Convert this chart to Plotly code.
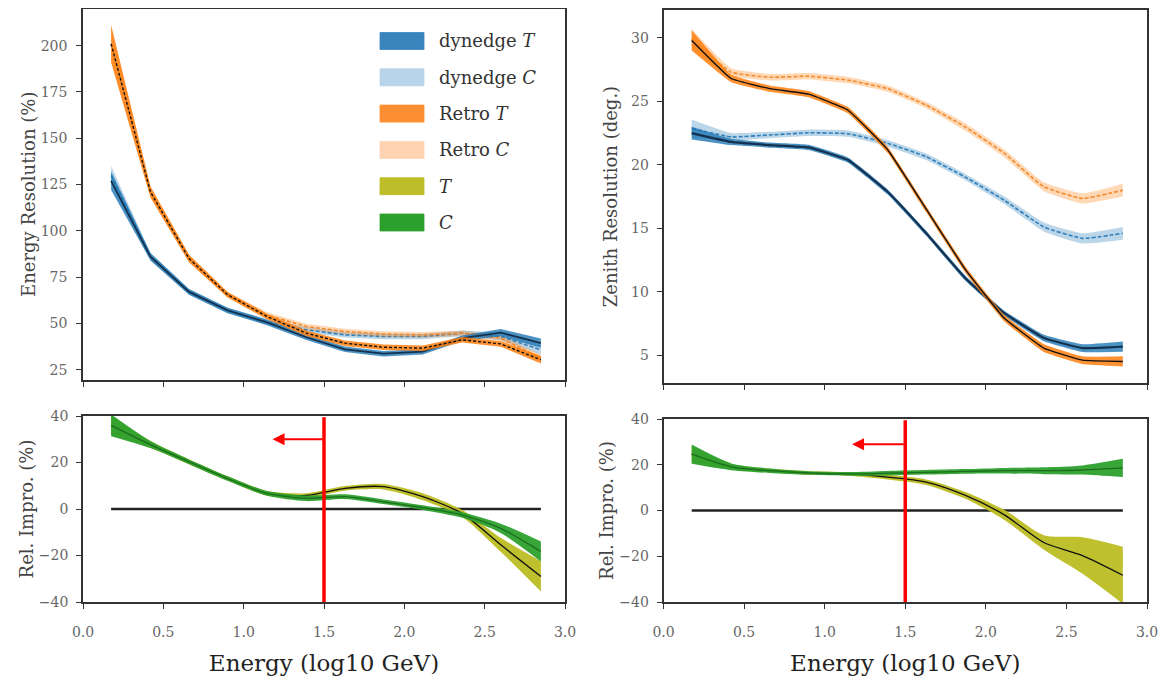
import plotly.graph_objects as go

# ---------------- data ----------------
energy_bins = [0.175, 0.42, 0.66, 0.90, 1.145, 1.39, 1.63, 1.87, 2.115, 2.36, 2.60, 2.85]

# Energy resolution (%)
dyn_T_energy = [127, 86, 67, 57, 50.5, 42.5, 36.0, 33.6, 34.7, 42.0, 45.0, 39.3]
dyn_T_energy_err = [5, 2, 1.5, 1.5, 1.5, 1.5, 1.5, 1.5, 1.5, 1.5, 2, 2.5]
dyn_C_energy = [130, 86, 67, 57, 51, 46.5, 43.8, 42.9, 42.9, 44.7, 42.9, 35.7]
dyn_C_energy_err = [5, 2, 1.5, 1.5, 1.5, 1.5, 1.5, 1.5, 1.5, 1.5, 2, 2.5]
retro_T_energy = [201, 121, 85, 65.5, 53.7, 44.7, 39.3, 37.1, 36.6, 41.1, 38.9, 30.3]
retro_T_energy_err = [10, 3, 2, 1.5, 1.5, 1.5, 1.5, 1.5, 1.5, 1.5, 1.5, 2]
retro_C_energy = [201, 121, 85, 65.5, 54.5, 48.3, 45.6, 44.2, 43.8, 44.7, 42.0, 31.2]
retro_C_energy_err = [10, 3, 2, 1.5, 1.5, 1.5, 1.5, 1.5, 1.5, 1.5, 1.5, 2]

# Zenith resolution (deg.)
dyn_T_zenith = [22.5, 21.8, 21.55, 21.37, 20.37, 17.87, 14.6, 11.1, 8.3, 6.35, 5.55, 5.67]
dyn_T_zenith_err = [0.5, 0.25, 0.2, 0.2, 0.2, 0.2, 0.2, 0.2, 0.2, 0.25, 0.3, 0.4]
dyn_C_zenith = [22.87, 22.2, 22.35, 22.52, 22.45, 21.7, 20.63, 19.05, 17.2, 15.1, 14.2, 14.6]
dyn_C_zenith_err = [0.7, 0.3, 0.25, 0.25, 0.25, 0.25, 0.25, 0.25, 0.3, 0.35, 0.4, 0.5]
retro_T_zenith = [29.8, 26.8, 26.0, 25.57, 24.3, 21.2, 16.5, 11.8, 7.9, 5.55, 4.6, 4.5]
retro_T_zenith_err = [0.8, 0.3, 0.25, 0.25, 0.25, 0.25, 0.25, 0.25, 0.25, 0.3, 0.3, 0.4]
retro_C_zenith = [29.9, 27.3, 26.9, 26.98, 26.67, 26.0, 24.7, 23.0, 20.9, 18.27, 17.35, 18.0]
retro_C_zenith_err = [0.8, 0.3, 0.25, 0.25, 0.25, 0.25, 0.25, 0.3, 0.3, 0.35, 0.4, 0.5]

# Relative improvement (%)
impro_T_energy = [36, 27.7, 20.3, 13.1, 6.7, 5.8, 8.9, 9.6, 5.3, -1.9, -15.4, -29]
impro_T_energy_err = [4, 1.5, 1, 1, 1, 1, 1, 1.2, 1.5, 1.5, 3, 6.5]
impro_C_energy = [36, 27.7, 20.3, 13.1, 6.7, 4.6, 5.3, 3.1, 0.6, -2.6, -8.3, -18.3]
impro_C_energy_err = [4.7, 1.5, 1, 1, 1, 1.2, 1, 1, 1, 1.2, 2, 4.3]
impro_T_zenith = [24.6, 19.1, 17.4, 16.4, 16.0, 14.6, 12.4, 6.7, -1.9, -14, -19.7, -28.3]
impro_T_zenith_err = [3.5, 1.2, 0.8, 0.8, 0.8, 1, 1.2, 1.5, 2.2, 3.2, 8, 12.5]
impro_C_zenith = [24.6, 19.1, 17.4, 16.4, 16.0, 16.3, 16.7, 17.1, 17.4, 17.4, 17.7, 18.6]
impro_C_zenith_err = [4.2, 1.5, 1, 0.8, 0.8, 1, 1, 1, 1.2, 1.5, 2, 4]

threshold = 1.5
arrow_tip_left, arrow_y_left = 1.18, 30
arrow_tip_right, arrow_y_right = 1.17, 29

legend_labels = ["dynedge <i>T</i>", "dynedge <i>C</i>", "Retro <i>T</i>",
                 "Retro <i>C</i>", "<i>T</i>", "<i>C</i>"]
legend_colors = ["#3a84be", "#b8d4ea", "#fd8f32", "#fdd3b2", "#bdbd2a", "#2ca02c"]

FONT = "DejaVu Serif"
W, H, OFF = 1158, 677, 8   # page body has an 8px margin


def fx(px):
    return min(1.0, max(0.0, (px - OFF) / W))


def fy(py):
    return min(1.0, max(0.0, 1 - (py - OFF) / H))


fig = go.Figure()


def band(xa, ya, x, y, err, fill, line_color, line_width, dash="solid", shape="linear", smooth=0.5):
    lo = [v - e for v, e in zip(y, err)]
    hi = [v + e for v, e in zip(y, err)]
    ln = dict(width=0, shape=shape)
    if shape == "spline":
        ln["smoothing"] = smooth
    fig.add_trace(go.Scatter(x=x, y=lo, xaxis=xa, yaxis=ya, mode="lines",
                             line=ln, showlegend=False, hoverinfo="skip"))
    fig.add_trace(go.Scatter(x=x, y=hi, xaxis=xa, yaxis=ya, mode="lines", fill="tonexty",
                             fillcolor=fill, line=ln,
                             showlegend=False, hoverinfo="skip"))
    ml = dict(color=line_color, width=line_width, dash=dash, shape=shape)
    if shape == "spline":
        ml["smoothing"] = smooth
    fig.add_trace(go.Scatter(x=x, y=y, xaxis=xa, yaxis=ya, mode="lines",
                             line=ml, showlegend=False))


BLUE_D = "rgba(31,119,180,0.8)"
BLUE_L = "rgba(31,119,180,0.3)"
ORNG_D = "rgba(255,127,14,0.85)"
ORNG_L = "rgba(255,127,14,0.3)"
OLIVE = "rgba(188,189,34,0.95)"
GREEN = "rgba(44,160,44,0.95)"

# top-left: energy resolution
band("x", "y", energy_bins, dyn_C_energy, dyn_C_energy_err, BLUE_L, "#2f7fbb", 1.6, "4px,2px")
band("x", "y", energy_bins, retro_C_energy, retro_C_energy_err, ORNG_L, "#f28a2e", 1.6, "4px,2px")
band("x", "y", energy_bins, dyn_T_energy, dyn_T_energy_err, BLUE_D, "#14324f", 1.8)
band("x", "y", energy_bins, retro_T_energy, retro_T_energy_err, ORNG_D, "#111111", 1.4, "3px,2px")

# top-right: zenith resolution
band("x2", "y2", energy_bins, dyn_C_zenith, dyn_C_zenith_err, BLUE_L, "#2f7fbb", 1.6, "4px,2px", "spline", 0.4)
band("x2", "y2", energy_bins, retro_C_zenith, retro_C_zenith_err, ORNG_L, "#f28a2e", 1.6, "4px,2px", "spline", 0.4)
band("x2", "y2", energy_bins, dyn_T_zenith, dyn_T_zenith_err, BLUE_D, "#14324f", 2.2, "solid", "spline", 0.3)
band("x2", "y2", energy_bins, retro_T_zenith, retro_T_zenith_err, ORNG_D, "#111111", 1.4, "solid", "spline", 0.3)

# bottom panels: zero line, bands
for xa, ya, tT, eT, tC, eC in [("x3", "y3", impro_T_energy, impro_T_energy_err, impro_C_energy, impro_C_energy_err),
                                ("x4", "y4", impro_T_zenith, impro_T_zenith_err, impro_C_zenith, impro_C_zenith_err)]:
    fig.add_trace(go.Scatter(x=[energy_bins[0], energy_bins[-1]], y=[0, 0], xaxis=xa, yaxis=ya,
                             mode="lines", line=dict(color="#222222", width=2.5), showlegend=False))
    band(xa, ya, energy_bins, tT, eT, OLIVE, "#111111", 1.3, "solid", "spline", 0.7)
    band(xa, ya, energy_bins, tC, eC, GREEN, "#1d6e1d", 1.3, "solid", "spline", 0.7)

# threshold lines and arrows
shapes = []
annotations = []
for xa, ya, tip, ay in [("x3", "y3", arrow_tip_left, arrow_y_left), ("x4", "y4", arrow_tip_right, arrow_y_right)]:
    shapes.append(dict(type="line", xref=xa, yref=ya, x0=threshold, x1=threshold, y0=-40, y1=39.5,
                       line=dict(color="#ff0000", width=3.5)))
    annotations.append(dict(xref=xa, yref=ya, x=tip, y=ay, axref=xa, ayref=ya, ax=threshold, ay=ay,
                            text="", showarrow=True, arrowhead=2, arrowsize=1.2, arrowwidth=2,
                            arrowcolor="#ff0000"))

# legend (patches + text) in top-left panel
for i, (lab, col) in enumerate(zip(legend_labels, legend_colors)):
    yc_px = 41 + 36.3 * i
    shapes.append(dict(type="rect", xref="paper", yref="paper", x0=fx(380), x1=fx(424),
                       y0=fy(yc_px + 8.5), y1=fy(yc_px - 8.5), fillcolor=col,
                       line=dict(width=0.8, color=col)))
    annotations.append(dict(xref="paper", yref="paper", x=fx(437), y=fy(yc_px), text=lab,
                            showarrow=False, xanchor="left", yanchor="middle",
                            font=dict(family=FONT, size=18, color="#333333")))

axis_common = dict(showline=True, mirror=True, linecolor="#333333", linewidth=1.6,
                   ticks="outside", ticklen=5, tickwidth=1.4, tickcolor="#333333",
                   showgrid=False, zeroline=False, automargin=False,
                   tickfont=dict(family=FONT, size=14, color="#666666"))
xdomL = [fx(83), fx(565)]
xdomR = [fx(663.5), fx(1147)]
ytitle_font = dict(family=FONT, size=18, color="#444444")
xtitle_font = dict(family=FONT, size=23, color="#222222")

fig.update_layout(
    template="none",
    width=W, height=H,
    margin=dict(l=0, r=0, t=0, b=0, autoexpand=False),
    paper_bgcolor="white", plot_bgcolor="white",
    showlegend=False,
    shapes=shapes, annotations=annotations,
    xaxis=dict(domain=xdomL, range=[0, 3], dtick=0.5, showticklabels=False, anchor="y", **axis_common),
    yaxis=dict(domain=[fy(380), fy(8.5)], range=[19.4, 220.1], tickvals=[25, 50, 75, 100, 125, 150, 175, 200],
               anchor="x", ticklabelstandoff=6,
               title=dict(text="Energy Resolution (%)", font=ytitle_font), **axis_common),
    xaxis2=dict(domain=xdomR, range=[0, 3], dtick=0.5, showticklabels=False, anchor="y2", **axis_common),
    yaxis2=dict(domain=[fy(383), fy(10)], range=[2.8, 32.2], tickvals=[5, 10, 15, 20, 25, 30],
                anchor="x2", ticklabelstandoff=5,
                title=dict(text="Zenith Resolution (deg.)", font=ytitle_font), **axis_common),
    xaxis3=dict(domain=xdomL, range=[0, 3], dtick=0.5, tickformat=".1f", anchor="y3", ticklabelstandoff=11,
                title=dict(text="Energy (log10 GeV)", font=xtitle_font, standoff=16), **axis_common),
    yaxis3=dict(domain=[fy(602), fy(416)], range=[-40, 40], tickvals=[-40, -20, 0, 20, 40],
                anchor="x3", ticklabelstandoff=5,
                title=dict(text="Rel. Impro. (%)", font=ytitle_font), **axis_common),
    xaxis4=dict(domain=xdomR, range=[0, 3], dtick=0.5, tickformat=".1f", anchor="y4", ticklabelstandoff=11,
                title=dict(text="Energy (log10 GeV)", font=xtitle_font, standoff=16), **axis_common),
    yaxis4=dict(domain=[fy(602), fy(419)], range=[-40, 40], tickvals=[-40, -20, 0, 20, 40],
                anchor="x4", ticklabelstandoff=5,
                title=dict(text="Rel. Impro. (%)", font=ytitle_font), **axis_common),
)

fig.write_html("out.html")
